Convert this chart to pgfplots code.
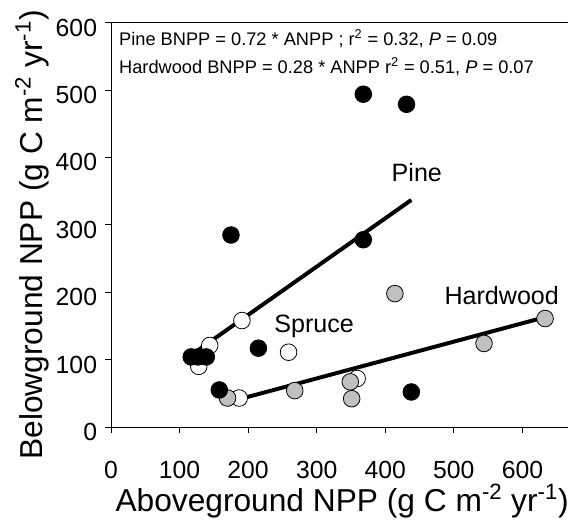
\documentclass[border=0pt]{standalone}
\usepackage{fontspec}
\setmainfont{Liberation Sans}
\usepackage{pgfplots}
\pgfplotsset{compat=1.18}
\definecolor{hwgrey}{RGB}{192,192,192}
\begin{document}
\begin{tikzpicture}
\begin{axis}[
  scale only axis, width=345.75pt, height=306pt,
  xmin=0, xmax=666, ymin=0, ymax=600,
  axis x line=bottom, axis y line=left,
  axis line style={-, line width=0.6pt},
  xtick={0,100,...,600}, ytick={0,100,...,600},
  tick align=outside, major tick length=4.5pt,
  tick style={black, line width=0.6pt},
  /pgf/number format/assume math mode=true,
  tick label style={font=\fontsize{18.75}{20}\selectfont},
  yticklabel style={yshift=-3.75pt, xshift=-2.5pt},
  xticklabel style={yshift=-17.5pt},
  xlabel={Aboveground NPP (g C m\textsuperscript{-2} yr\textsuperscript{-1})},
  ylabel={Belowground NPP (g C m\textsuperscript{-2} yr\textsuperscript{-1})},
  label style={font=\fontsize{24}{26}\selectfont},
  xlabel style={at={(axis description cs:0.506,-0.208)}, anchor=base},
  ylabel style={at={(axis description cs:-0.150,0.475)}, anchor=base},
  clip=false,
]
\draw[line width=0.6pt] (rel axis cs:0,1) -- (rel axis cs:1,1);
% Spruce (open)
\addplot[only marks, mark=*, mark size=6.3pt, mark options={draw=black, fill=white, line width=0.6pt}] coordinates {
(191,158) (144,121) (259,111) (128,90) (187,43) (359,72)
};
% Hardwood (grey)
\addplot[only marks, mark=*, mark size=6.3pt, mark options={draw=black, fill=hwgrey, line width=0.6pt}] coordinates {
(414,198) (633,161) (544,124) (349,67) (351,42) (268,54) (170,43)
};
% Pine (black)
\addplot[only marks, mark=*, mark size=6.3pt, mark options={draw=black, fill=black, line width=0.6pt}] coordinates {
(368,494) (431,479) (175,285) (368,278) (215,117) (117,104) (127,104) (139,104) (158,55) (438,52)
};
% regression lines
\addplot[no marks, line width=3pt, black] coordinates {(127,114) (438,337)};
\addplot[no marks, line width=3pt, black] coordinates {(182.5,40) (633,163)};
\node[anchor=base west, font=\fontsize{13.8}{15}\selectfont, inner sep=0pt] at (axis cs:11.6,566) {Pine BNPP = 0.72 * ANPP ; r\textsuperscript{2} = 0.32, \textit{P} = 0.09};
\node[anchor=base west, font=\fontsize{13.8}{15}\selectfont, inner sep=0pt] at (axis cs:11.6,525) {Hardwood BNPP = 0.28 * ANPP r\textsuperscript{2} = 0.51, \textit{P} = 0.07};
\node[anchor=base west, font=\fontsize{19}{21}\selectfont, inner sep=0pt] at (axis cs:409,364) {Pine};
\node[anchor=base west, font=\fontsize{19}{21}\selectfont, inner sep=0pt] at (axis cs:486,182) {Hardwood};
\node[anchor=base west, font=\fontsize{19}{21}\selectfont, inner sep=0pt] at (axis cs:238,141) {Spruce};
\end{axis}
\path ([xshift=-84pt,yshift=-69pt]current axis.south west) rectangle ([yshift=17.25pt]current axis.north east);
\end{tikzpicture}
\end{document}
